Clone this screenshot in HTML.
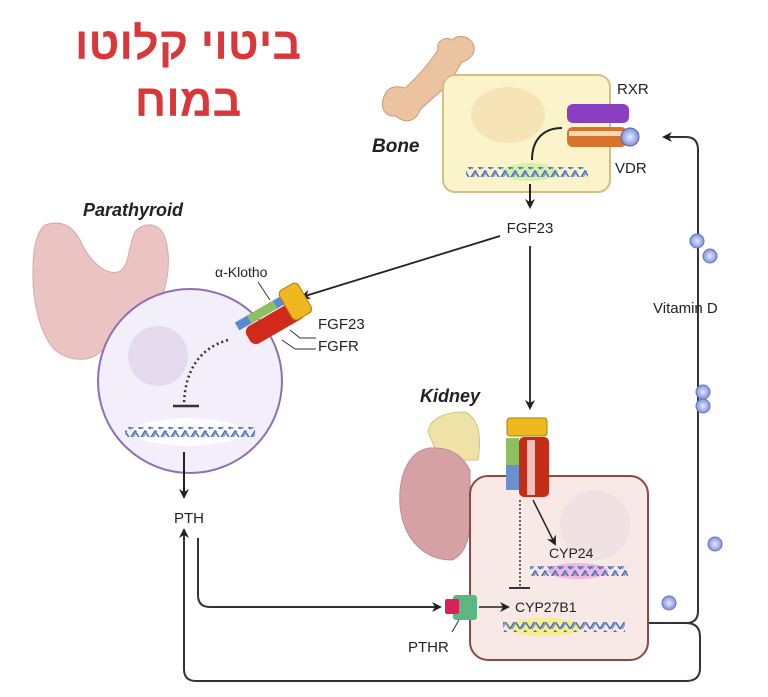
<!DOCTYPE html>
<html><head><meta charset="utf-8"><style>
body{margin:0;background:#fff;width:768px;height:697px;overflow:hidden}
svg{display:block}
text{font-family:"Liberation Sans",sans-serif;fill:#222}
</style></head><body>
<svg width="768" height="697" viewBox="0 0 768 697">
<defs>
<marker id="ah" markerWidth="10" markerHeight="10" refX="8" refY="5" orient="auto" markerUnits="userSpaceOnUse"><path d="M0,0 L10,5 L0,10 L3,5z" fill="#222"/></marker>
<pattern id="dna" width="10" height="10" patternUnits="userSpaceOnUse"><path d="M0,9 L5,1 L10,9" fill="none" stroke="#4a6fb8" stroke-width="1.6"/><path d="M2,9 L7,1" stroke="#7f95c8" stroke-width="1.2"/></pattern>
<radialGradient id="ball"><stop offset="0" stop-color="#e8ecff"/><stop offset="1" stop-color="#7f8fe0"/></radialGradient>
</defs>
<!-- Title -->
<text x="188" y="59" text-anchor="middle" font-size="45" font-weight="bold" style="fill:#d9373a;font-family:'Liberation Sans','Noto Sans CJK SC',sans-serif" direction="rtl">ביטוי קלוטו</text>
<text x="188" y="116" text-anchor="middle" font-size="45" font-weight="bold" style="fill:#d9373a;font-family:'Liberation Sans','Noto Sans CJK SC',sans-serif" direction="rtl">במוח</text>

<!-- Bone -->
<path d="M388,90 C378,102 382,118 396,116 C404,124 416,122 420,110 C430,100 440,92 448,85 L462,62 C470,60 478,52 472,42 C466,34 456,36 452,40 C446,36 436,40 438,50 C430,62 420,75 405,88 C398,86 392,86 388,90z" fill="#ebc3a0" stroke="#c99a78"/>
<rect x="443" y="75" width="167" height="117" rx="12" fill="#fbf3c9" stroke="#d5be86" stroke-width="2"/>
<ellipse cx="508" cy="115" rx="37" ry="28" fill="#f6e3b6"/>
<ellipse cx="530" cy="172" rx="28" ry="9" fill="#c8f0a0" opacity=".7"/>
<rect x="466" y="167" width="122" height="10" fill="url(#dna)"/>
<rect x="567" y="104" width="62" height="19" rx="6" fill="#8a3fc0"/>
<rect x="567" y="127" width="60" height="20" rx="6" fill="#d9722a"/>
<rect x="569" y="131" width="55" height="5" fill="#fff1d8" opacity=".8"/>
<circle cx="630" cy="137" r="9" fill="url(#ball)" stroke="#5566aa"/>
<path d="M562,128 C545,128 532,138 532,160" fill="none" stroke="#222" stroke-width="2"/>
<text x="617" y="94" font-size="15">RXR</text>
<text x="615" y="173" font-size="15">VDR</text>
<text x="372" y="152" font-size="19" font-weight="bold" font-style="italic">Bone</text>
<line x1="530" y1="184" x2="530" y2="207" stroke="#222" stroke-width="2" marker-end="url(#ah)"/>
<text x="530" y="233" font-size="15" text-anchor="middle">FGF23</text>

<line x1="500" y1="236" x2="302" y2="297" stroke="#222" stroke-width="1.8" marker-end="url(#ah)"/>
<line x1="530" y1="246" x2="530" y2="408" stroke="#222" stroke-width="1.8" marker-end="url(#ah)"/>

<!-- Vitamin D loop -->
<path d="M630,623 L686,623 Q698,623 698,611 L698,150 Q698,137 686,137 L664,137" fill="none" stroke="#333" stroke-width="2" marker-end="url(#ah)"/>
<path d="M686,623 Q700,623 700,637 L700,668 Q700,681 686,681 L196,681 Q184,681 184,669 L184,530" fill="none" stroke="#333" stroke-width="2" marker-end="url(#ah)"/>
<path d="M198,538 L198,595 Q198,607 210,607 L440,607" fill="none" stroke="#333" stroke-width="2" marker-end="url(#ah)"/>
<g fill="url(#ball)" stroke="#6677bb">
<circle cx="697" cy="241" r="7"/><circle cx="710" cy="256" r="7"/>
<circle cx="703" cy="392" r="7"/><circle cx="703" cy="406" r="7"/>
<circle cx="715" cy="544" r="7"/><circle cx="669" cy="603" r="7"/></g>
<text x="653" y="313" font-size="15">Vitamin D</text>

<!-- Parathyroid gland -->
<path d="M45,225 C60,220 72,225 80,240 C90,262 105,275 118,272 C130,268 128,245 135,232 C142,222 158,222 164,235 C172,255 168,285 160,300 L150,330 C140,345 120,350 100,352 C90,362 70,362 55,350 C40,335 32,300 33,270 C33,245 38,230 45,225z" fill="#ecc3c3" stroke="#d9a8a8"/>
<text x="83" y="216" font-size="18" font-weight="bold" font-style="italic">Parathyroid</text>
<circle cx="190" cy="381" r="92" fill="#f2effa" stroke="#8e6fb5" stroke-width="2"/>
<circle cx="158" cy="356" r="30" fill="#e4dcee"/>
<ellipse cx="188" cy="432" rx="55" ry="14" fill="#fff" opacity=".8"/>
<rect x="125" y="427" width="130" height="10" fill="url(#dna)"/>
<path d="M228,340 C200,348 185,370 184,404" fill="none" stroke="#333" stroke-width="2.5" stroke-dasharray="2,3"/>
<line x1="173" y1="406" x2="199" y2="406" stroke="#333" stroke-width="2.5"/>
<line x1="184" y1="452" x2="184" y2="497" stroke="#222" stroke-width="2" marker-end="url(#ah)"/>
<text x="189" y="523" font-size="15" text-anchor="middle">PTH</text>
<g transform="rotate(-30 272 315)">
<rect x="236" y="303" width="60" height="9" fill="#5a8ad0"/>
<rect x="250" y="303" width="30" height="9" fill="#8cc060"/>
<rect x="240" y="313" width="62" height="20" rx="7" fill="#d22a1a"/>
<rect x="288" y="298" width="22" height="34" rx="5" fill="#f0b820" stroke="#a8800a"/>
</g>
<text x="215" y="277" font-size="14">α-Klotho</text>
<line x1="258" y1="282" x2="270" y2="300" stroke="#333"/>
<text x="318" y="329" font-size="15">FGF23</text>
<text x="318" y="351" font-size="15">FGFR</text>
<path d="M290,330 L300,338 L316,338 M282,340 L295,349 L316,349" fill="none" stroke="#333"/>

<!-- Kidney -->
<path d="M428,432 C430,418 445,412 465,412 C478,418 482,435 478,460 L440,460z" fill="#efe2a6" stroke="#d6c480"/>
<path d="M435,448 C410,446 398,475 400,505 C403,540 425,560 452,560 C464,555 470,540 470,520 L470,470 C462,455 450,448 435,448z" fill="#d5a1a4" stroke="#c08d90"/>
<text x="420" y="402" font-size="18" font-weight="bold" font-style="italic">Kidney</text>
<rect x="470" y="476" width="178" height="184" rx="18" fill="#f8e9e7" stroke="#8b4a48" stroke-width="2"/>
<circle cx="595" cy="525" r="35" fill="#f0e2e2"/>
<ellipse cx="578" cy="571" rx="30" ry="8" fill="#f0a0e0" opacity=".7"/>
<ellipse cx="545" cy="627" rx="38" ry="9" fill="#f8f080" opacity=".9"/>
<rect x="530" y="566" width="98" height="10" fill="url(#dna)"/>
<rect x="503" y="622" width="122" height="10" fill="url(#dna)"/>
<rect x="506" y="438" width="13" height="27" fill="#8cc060"/>
<rect x="506" y="465" width="13" height="25" fill="#6a90d0"/>
<rect x="519" y="437" width="30" height="60" rx="5" fill="#c52c18"/>
<rect x="527" y="440" width="8" height="55" fill="#fff" opacity=".7"/>
<rect x="507" y="418" width="40" height="18" rx="3" fill="#f0b820" stroke="#a8800a"/>
<line x1="520" y1="500" x2="520" y2="586" stroke="#333" stroke-width="1.5" stroke-dasharray="2,2"/>
<line x1="509" y1="588" x2="530" y2="588" stroke="#333" stroke-width="2"/>
<line x1="533" y1="500" x2="555" y2="544" stroke="#222" stroke-width="1.5" marker-end="url(#ah)"/>
<text x="549" y="558" font-size="14">CYP24</text>
<text x="515" y="612" font-size="14">CYP27B1</text>
<rect x="453" y="595" width="24" height="25" rx="3" fill="#5cb880"/>
<rect x="445" y="599" width="14" height="15" rx="2" fill="#d8205a"/>
<line x1="479" y1="607" x2="508" y2="607" stroke="#222" stroke-width="1.5" marker-end="url(#ah)"/>
<line x1="459" y1="620" x2="452" y2="632" stroke="#333"/>
<text x="408" y="652" font-size="15">PTHR</text>
</svg>
</body></html>
